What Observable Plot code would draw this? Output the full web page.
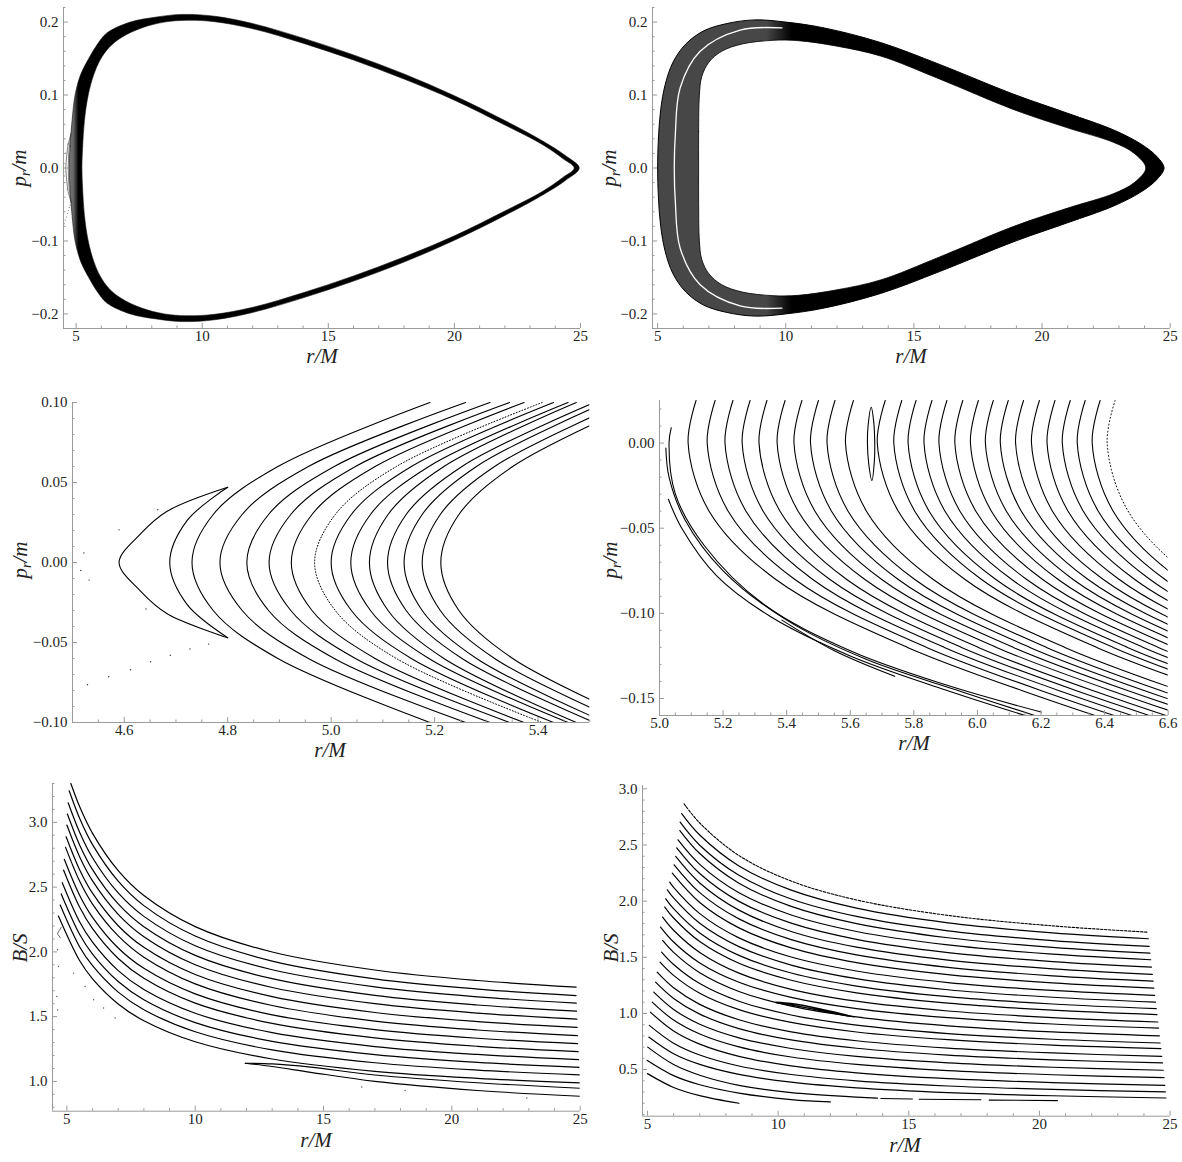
<!DOCTYPE html>
<html><head><meta charset="utf-8">
<script src="https://cdn.jsdelivr.net/npm/d3@7"></script>
<script src="https://cdn.jsdelivr.net/npm/@observablehq/plot@0.6"></script>
<style>
body{margin:0;background:#fff;}
#root{position:relative;width:1182px;height:1162px;overflow:hidden;background:#fff;font-family:"Liberation Serif","Times New Roman",serif;}
#root svg text{font-family:"Liberation Serif","Times New Roman",serif !important;font-size:15px !important;}
.lab{position:absolute;font-style:italic;font-size:21px;white-space:nowrap;color:#222;line-height:1;}
.lab sub{font-size:14px;vertical-align:-4px;}
</style></head><body><div id="root"></div>
<script>
// ---------------- DATA ----------------
// Panel 1 (top-left): outer / inner boundary of the invariant band (r/M, p_r/m)
const p1Outer = [[4.73,0],[4.76,0.03],[4.84,0.065],[4.96,0.1],[5.18,0.128],[5.5,0.15],[5.85,0.17],[6.22,0.185],[7.15,0.2],[8.2,0.207],[9.2,0.2105],[10.5,0.208],[12,0.198],[14,0.178],[16,0.155],[18,0.129],[20,0.099],[22,0.065],[23.5,0.037],[24.4,0.017],[24.95,0],
  [24.4,-0.017],[23.5,-0.037],[22,-0.065],[20,-0.099],[18,-0.129],[16,-0.155],[14,-0.178],[12,-0.198],[10.5,-0.208],[9.2,-0.2105],[8.2,-0.207],[7.15,-0.2],[6.22,-0.185],[5.85,-0.17],[5.5,-0.15],[5.18,-0.128],[4.96,-0.1],[4.84,-0.065],[4.76,-0.03]];
const p1Inner = [[5.23,0],[5.26,0.03],[5.33,0.065],[5.48,0.1],[5.7,0.128],[5.95,0.148],[6.3,0.165],[6.8,0.179],[7.6,0.192],[8.5,0.2],[9.4,0.2025],[10.5,0.2005],[12,0.191],[14,0.171],[16,0.148],[18,0.122],[20,0.093],[22,0.059],[23.5,0.032],[24.3,0.013],[24.75,0],
  [24.3,-0.013],[23.5,-0.032],[22,-0.059],[20,-0.093],[18,-0.122],[16,-0.148],[14,-0.171],[12,-0.191],[10.5,-0.2005],[9.4,-0.2025],[8.5,-0.2],[7.6,-0.192],[6.8,-0.179],[6.3,-0.165],[5.95,-0.148],[5.7,-0.128],[5.48,-0.1],[5.33,-0.065],[5.26,-0.03]];

// Panel 2 (top-right)
const p2Outer = [[5.0,0],[5.03,0.04],[5.12,0.08],[5.3,0.115],[5.6,0.145],[6.1,0.17],[6.8,0.188],[7.7,0.198],[8.8,0.203],[10,0.2],[11.5,0.192],[13.7,0.172],[16,0.142],[18.9,0.101],[21,0.075],[22.8,0.052],[23.9,0.032],[24.5,0.015],[24.76,0],
  [24.5,-0.015],[23.9,-0.032],[22.8,-0.052],[21,-0.075],[18.9,-0.101],[16,-0.142],[13.7,-0.172],[11.5,-0.192],[10,-0.2],[8.8,-0.203],[7.7,-0.198],[6.8,-0.188],[6.1,-0.17],[5.6,-0.145],[5.3,-0.115],[5.12,-0.08],[5.03,-0.04]];
const p2Inner = [[6.6,0],[6.6,0.05],[6.63,0.1],[6.72,0.125],[7.0,0.145],[7.5,0.16],[8.3,0.17],[9.5,0.175],[10.5,0.1745],[12,0.167],[13.7,0.1535],[16,0.122],[18.9,0.08],[21,0.055],[22.8,0.035],[23.6,0.02],[24.05,0],
  [23.6,-0.02],[22.8,-0.035],[21,-0.055],[18.9,-0.08],[16,-0.122],[13.7,-0.1535],[12,-0.167],[10.5,-0.1745],[9.5,-0.175],[8.3,-0.17],[7.5,-0.16],[7.0,-0.145],[6.72,-0.125],[6.63,-0.1],[6.6,-0.05]];
const p2WhiteLine = [[9.85,0.192],[8.22,0.189],[6.66,0.16],[5.88,0.11],[5.69,0.046],[5.65,0],[5.69,-0.046],[5.88,-0.11],[6.66,-0.16],[8.22,-0.189],[9.85,-0.192]];

// Panel 3 (middle-left): r/M of each curve at the p_r/m levels of p3Grid
const p3Grid = [0.1, 0.06, 0.03, 0, -0.03, -0.06, -0.1];
const p3Curves = [
  [5.191,4.897,4.772,4.731,4.772,4.897,5.191],
  [5.26,4.956,4.828,4.785,4.828,4.956,5.26],
  [5.307,5.006,4.879,4.837,4.879,5.006,5.307],
  [5.345,5.047,4.922,4.880,4.922,5.047,5.345],
  [5.373,5.085,4.963,4.923,4.963,5.085,5.373],
  [5.408,5.126,5.008,4.968,5.008,5.126,5.408],
  [5.43,5.155,5.039,5.0,5.039,5.155,5.43],
  [5.458,5.189,5.076,5.038,5.076,5.189,5.458],
  [5.474,5.218,5.110,5.074,5.110,5.218,5.474],
  [5.509,5.253,5.145,5.109,5.145,5.253,5.509],
  [5.531,5.281,5.176,5.141,5.176,5.281,5.531],
  [5.566,5.316,5.211,5.176,5.211,5.316,5.566],
  [5.597,5.351,5.247,5.212,5.247,5.351,5.597]
];
const p3DottedIndex = 5;
const p3CrescentOuter = [[4.8,0.047],[4.683,0.032],[4.631,0.0177],[4.59,0],[4.631,-0.0177],[4.683,-0.032],[4.8,-0.047]];
const p3CrescentInner = [[4.8,0.047],[4.721,0.026],[4.688,0],[4.721,-0.026],[4.8,-0.047]];
const p3Dots = [[4.59,0.0204],[4.665,0.033],[4.522,0.006],[4.516,-0.005],[4.532,-0.011],[4.642,-0.029],[4.763,-0.051],[4.727,-0.054],[4.689,-0.058],[4.651,-0.062],[4.612,-0.067],[4.57,-0.0714],[4.529,-0.0764]];

// Panel 4 (middle-right): r/M of each curve at the p_r/m levels of p4Grid
const p4Grid = [0.025, 0, -0.04, -0.08, -0.12, -0.16];
const p4Curves = [
  [5.115,5.09,5.156,5.365,5.78,6.37],
  [5.175,5.15,5.216,5.425,5.84,6.43],
  [5.231,5.206,5.272,5.481,5.896,6.486],
  [5.285,5.26,5.326,5.535,5.95,6.54],
  [5.338,5.313,5.379,5.588,6.003,6.593],
  [5.395,5.37,5.436,5.645,6.06,6.65],
  [5.448,5.423,5.489,5.698,6.113,6.703],
  [5.5,5.475,5.541,5.75,6.165,6.755],
  [5.552,5.527,5.593,5.802,6.217,6.807],
  [5.61,5.585,5.651,5.86,6.275,6.865],
  [5.71,5.685,5.751,5.96,6.375,6.965],
  [5.762,5.737,5.803,6.012,6.427,7.017],
  [5.807,5.782,5.848,6.057,6.472,7.062],
  [5.857,5.832,5.898,6.107,6.522,7.112],
  [5.904,5.879,5.945,6.154,6.569,7.159],
  [5.954,5.929,5.995,6.204,6.619,7.209],
  [6.003,5.978,6.044,6.253,6.668,7.258],
  [6.05,6.025,6.091,6.3,6.715,7.305],
  [6.097,6.072,6.138,6.347,6.762,7.352],
  [6.145,6.12,6.186,6.395,6.81,7.4],
  [6.195,6.17,6.236,6.445,6.86,7.45],
  [6.244,6.219,6.285,6.494,6.909,7.499],
  [6.292,6.267,6.333,6.542,6.957,7.547],
  [6.339,6.314,6.38,6.589,7.004,7.594],
  [6.386,6.361,6.427,6.636,7.051,7.641],
  [6.433,6.408,6.474,6.683,7.098,7.688]
];
const p4DottedIndex = 25;
const p4Extra = [
  [[5.037,0.009],[5.03,0],[5.05,-0.03],[5.14,-0.06],[5.33,-0.095],[5.6,-0.122],[5.9,-0.142],[6.2,-0.158]],
  [[5.02,-0.003],[5.03,-0.02],[5.08,-0.045],[5.2,-0.075],[5.4,-0.104],[5.65,-0.127],[5.95,-0.146],[6.18,-0.16]],
  [[5.028,-0.033],[5.07,-0.05],[5.18,-0.078],[5.35,-0.102],[5.6,-0.125],[5.9,-0.145],[6.15,-0.16]],
  [[5.385,-0.104],[5.55,-0.122],[5.74,-0.137]]
];
const p4Loop = [[5.666,0.021],[5.656,0.01],[5.654,0],[5.658,-0.012],[5.668,-0.022],[5.676,-0.01],[5.677,0],[5.674,0.012]];

// Panel 5 (bottom-left): B/S of each curve at start, at r/M = p5Grid, and at end
const p5Grid = [5.5, 6, 7, 8, 10, 13, 17, 21];
const p5Starts = [[5.155,3.300],[5.09,3.244],[5.05,3.151],[5.02,3.064],[5.00,2.979],[4.97,2.889],[4.95,2.807],[4.90,2.715],[4.87,2.632],[4.82,2.534],[4.78,2.447],[4.74,2.362],[4.67,2.277]];
const p5Vals = [
  [3.120,2.915,2.627,2.435,2.195,1.999,1.860,1.779],
  [3.030,2.828,2.546,2.357,2.122,1.929,1.792,1.713],
  [2.922,2.727,2.455,2.274,2.047,1.862,1.730,1.653],
  [2.824,2.635,2.370,2.194,1.973,1.793,1.664,1.590],
  [2.733,2.548,2.290,2.117,1.901,1.725,1.600,1.527],
  [2.633,2.453,2.202,2.035,1.825,1.654,1.532,1.462],
  [2.545,2.369,2.123,1.959,1.753,1.586,1.466,1.397],
  [2.436,2.267,2.030,1.873,1.676,1.514,1.400,1.333],
  [2.344,2.179,1.949,1.796,1.604,1.448,1.336,1.271],
  [2.231,2.075,1.855,1.709,1.526,1.376,1.269,1.208],
  [2.134,1.983,1.771,1.630,1.454,1.309,1.207,1.147],
  [2.038,1.893,1.689,1.553,1.383,1.243,1.144,1.087],
  [1.931,1.792,1.598,1.468,1.306,1.173,1.078,1.024]
];
const p5Ends = [[24.84,1.728],[24.84,1.663],[24.85,1.605],[24.86,1.543],[24.87,1.481],[24.88,1.417],[24.89,1.353],[24.90,1.291],[24.92,1.230],[24.94,1.168],[24.96,1.109],[24.98,1.050],[25.0,0.988]];
const p5IslandTop = [[11.95,1.14],[13,1.135],[14.5,1.11],[17,1.05],[21,0.99],[25,0.947]];
const p5IslandBottom = [[11.95,1.14],[13,1.115],[14.5,1.07],[17,1.0],[21,0.93],[25,0.885]];
const p5Zig = [[4.78,2.19],[4.63,2.14],[4.74,2.11]];
const p5Dots = [[4.635,2.016],[4.674,1.887],[5.26,1.836],[5.71,1.733],[6.04,1.63],[6.43,1.567],[6.88,1.49],[4.61,1.655],[4.64,1.552],[16.49,0.957],[18.18,0.93],[22.92,0.872]];

// Panel 6 (bottom-right)
const p6Grid = [6, 7, 8.5, 10.5, 13, 16.5, 20.5];
const p6Starts = [[6.40,2.867],[6.31,2.780],[6.25,2.703],[6.24,2.629],[6.17,2.546],[6.12,2.475],[6.08,2.398],[6.02,2.324],[5.95,2.249],[5.85,2.169],[5.76,2.101],[5.70,2.021],[5.66,1.947],[5.58,1.858],[5.50,1.769],[5.58,1.650],[5.54,1.546],[5.48,1.457],[5.37,1.368],[5.31,1.279],[5.24,1.190],[5.18,1.101],[5.11,1.012],[5.07,0.894],[5.05,0.790],[5.01,0.700],[4.98,0.583],[5.00,0.464]];
const p6Vals = [
  [null,2.696,2.406,2.179,2.011,1.873,1.780],
  [null,2.589,2.314,2.098,1.938,1.807,1.718],
  [null,2.498,2.230,2.019,1.864,1.736,1.649],
  [null,2.424,2.160,1.953,1.800,1.674,1.589],
  [null,2.328,2.075,1.877,1.730,1.610,1.528],
  [null,2.246,1.998,1.804,1.660,1.542,1.462],
  [null,2.162,1.920,1.730,1.590,1.475,1.397],
  [null,2.076,1.842,1.658,1.522,1.411,1.335],
  [null,1.988,1.762,1.584,1.453,1.345,1.272],
  [2.123,1.889,1.673,1.503,1.378,1.275,1.205],
  [2.029,1.803,1.595,1.431,1.310,1.211,1.144],
  [1.933,1.717,1.517,1.360,1.244,1.149,1.084],
  [1.850,1.640,1.447,1.296,1.184,1.092,1.029],
  [1.741,1.543,1.359,1.215,1.109,1.022,0.963],
  [1.636,1.450,1.278,1.143,1.043,0.962,0.906],
  [1.544,1.363,1.196,1.065,0.969,0.889,0.835],
  [1.436,1.266,1.109,0.986,0.896,0.821,0.770],
  [1.339,1.180,1.034,0.920,0.835,0.766,0.718],
  [1.229,1.081,0.944,0.836,0.757,0.692,0.648],
  [1.134,0.994,0.865,0.764,0.690,0.629,0.587],
  [1.036,0.904,0.783,0.688,0.617,0.560,0.521],
  [0.941,0.817,0.702,0.612,0.546,0.491,0.454],
  [0.844,0.727,0.618,0.533,0.471,0.419,0.384],
  [0.735,0.630,0.532,0.456,0.400,0.354,0.323],
  [0.641,0.546,0.457,0.388,0.337,0.295,0.267],
  [0.545,0.450,0.360,0.295,0.255,null,null],
  [0.446,0.365,0.291,0.233,null,null,null],
  [0.341,0.268,null,null,null,null,null]
];
const p6Ends = [[24.14,1.724],[24.17,1.665],[24.20,1.597],[24.23,1.537],[24.26,1.478],[24.29,1.413],[24.32,1.348],[24.35,1.288],[24.38,1.226],[24.41,1.161],[24.44,1.101],[24.47,1.043],[24.50,0.989],[24.53,0.924],[24.56,0.870],[24.59,0.800],[24.62,0.737],[24.65,0.687],[24.68,0.618],[24.71,0.559],[24.74,0.494],[24.77,0.429],[24.80,0.360],[24.82,0.301],[24.84,0.247],[13.8,0.245],[12.0,0.212],[8.5,0.200]];
const p6DottedIndex = 0;
const p6Dashes = [[[13.93,0.242],[15.14,0.238]],[[15.4,0.236],[17.76,0.232]],[[18.08,0.228],[20.69,0.224]]];
const p6Island = [[9.91,1.101],[10.5,1.088],[11.2,1.06],[12,1.02],[12.91,0.968],[12,1.008],[11.2,1.045],[10.5,1.075],[9.91,1.098]];

// Tick values
const ticksR25 = [5, 10, 15, 20, 25];
const ticksP1 = [-0.2, -0.1, 0, 0.1, 0.2];
const ticksR3 = [4.6, 4.8, 5.0, 5.2, 5.4];
const ticksP3 = [-0.10, -0.05, 0, 0.05, 0.10];
const ticksR4 = [5.0, 5.2, 5.4, 5.6, 5.8, 6.0, 6.2, 6.4, 6.6];
const ticksP4 = [-0.15, -0.10, -0.05, 0];
const ticksB5 = [1.0, 1.5, 2.0, 2.5, 3.0];
const ticksB6 = [0.5, 1.0, 1.5, 2.0, 2.5, 3.0];

// ---------------- DRAWING ----------------
const NS = "http://www.w3.org/2000/svg";
const root = document.getElementById("root");
const SERIF = '"Liberation Serif","Times New Roman",serif';
const AX = "#9a9a9a";
const TXT = {fontFamily: SERIF, fontSize: 15, fill: "#222"};
const fx = d => (d < 0 ? "\u2212" : "") + Math.abs(d);
const fd = n => d => (d < -1e-9 ? "\u2212" : "") + Math.abs(d).toFixed(n);
const minor = (lo, hi, step, majors) => d3.range(Math.ceil(lo / step - 1e-6), Math.floor(hi / step + 1e-6) + 1)
  .map(k => +(k * step).toFixed(6)).filter(v => !majors.some(m => Math.abs(m - v) < step / 10));
const pts = a => a.map(([x, y]) => ({x, y}));
function gradMark(id, stops) {
  return () => {
    const defs = document.createElementNS(NS, "defs");
    const lg = document.createElementNS(NS, "linearGradient");
    lg.setAttribute("id", id);
    lg.setAttribute("x1", "0"); lg.setAttribute("y1", "0"); lg.setAttribute("x2", "1"); lg.setAttribute("y2", "0");
    for (const [o, c] of stops) { const s = document.createElementNS(NS, "stop"); s.setAttribute("offset", o); s.setAttribute("stop-color", c); lg.appendChild(s); }
    defs.appendChild(lg);
    return defs;
  };
}
function gridRowsP(grid, curves) {
  const rows = [];
  curves.forEach((c, i) => c.forEach((r, j) => rows.push({x: r, y: grid[j], id: i})));
  return rows;
}
function gridRowsR(starts, grid, vals, ends) {
  const rows = [];
  starts.forEach((s, i) => {
    rows.push({x: s[0], y: s[1], id: i});
    vals[i].forEach((v, j) => { if (v != null && grid[j] > s[0] + 0.05 && grid[j] < ends[i][0] - 0.05) rows.push({x: grid[j], y: v, id: i}); });
    rows.push({x: ends[i][0], y: ends[i][1], id: i});
  });
  return rows;
}
function panel(c) {
  const ml = 70, mr = 16, mt = 12, mb = 30;
  const svg = Plot.plot({
    width: c.R - c.L + ml + mr, height: c.B - c.T + mt + mb,
    marginLeft: ml, marginRight: mr, marginTop: mt, marginBottom: mb,
    x: {domain: c.xd, label: null}, y: {domain: c.yd, label: null},
    style: {background: "transparent", maxWidth: "none", overflow: "visible"},
    marks: [
      ...c.marks,
      Plot.ruleX([c.xd[0]], {stroke: AX}),
      Plot.ruleY([c.yd[0]], {stroke: AX}),
      Plot.axisX({ticks: minor(c.xd[0], c.xd[1], c.xs, c.xt), tickSize: -2.5, tickFormat: () => "", stroke: AX, label: null}),
      Plot.axisX({ticks: c.xt, tickSize: -5, tickPadding: 7, tickFormat: c.xf, stroke: AX, label: null, ...TXT}),
      Plot.axisY({ticks: minor(c.yd[0], c.yd[1], c.ys, c.yt), tickSize: -2.5, tickFormat: () => "", stroke: AX, label: null}),
      Plot.axisY({ticks: c.yt, tickSize: -5, tickPadding: 10, tickFormat: c.yf, stroke: AX, label: null, ...TXT})
    ]
  });
  svg.setAttribute("font-family", SERIF);
  svg.setAttribute("font-size", "15");
  svg.querySelectorAll("text").forEach(t => { t.setAttribute("font-family", SERIF); t.style.fontFamily = SERIF; t.style.fontSize = "15px"; });
  svg.style.position = "absolute";
  svg.style.left = (c.L - ml) + "px";
  svg.style.top = (c.T - mt) + "px";
  root.appendChild(svg);
}
function label(html, cx, cy, rot) {
  const d = document.createElement("div");
  d.className = "lab";
  d.innerHTML = html;
  d.style.left = cx + "px"; d.style.top = cy + "px";
  d.style.transform = "translate(-50%,-50%)" + (rot ? " rotate(-90deg)" : "");
  root.appendChild(d);
}
const line = (data, o = {}) => Plot.line(pts(data), {x: "x", y: "y", curve: "catmull-rom", stroke: "black", strokeWidth: 1.1, clip: true, ...o});

// Panel 1
panel({L: 63.3, R: 580.3, T: 7, B: 328, xd: [4.5, 25], yd: [-0.22, 0.22], xt: ticksR25, yt: ticksP1, xf: fx, yf: fd(1), xs: 1, ys: 0.02,
  marks: [
    gradMark("g1", [["0", "#777"], ["0.008", "#666"], ["0.018", "#000"], ["1", "#000"]]),
    line(p1Outer, {curve: "catmull-rom-closed", fill: "url(#g1)", stroke: "#111", strokeWidth: 0.6}),
    line(p1Inner, {curve: "catmull-rom-closed", fill: "white", stroke: "#111", strokeWidth: 0.6}),
    line(p3CrescentOuter, {strokeWidth: 0.7, stroke: "#444"}),
    line(p3CrescentInner, {strokeWidth: 0.7, stroke: "#444"}),
    Plot.dot(pts(p3Dots), {x: "x", y: "y", r: 0.5, fill: "#555", stroke: null})
  ]});
// Panel 2
panel({L: 652.3, R: 1170, T: 7, B: 328, xd: [4.8, 25], yd: [-0.22, 0.22], xt: ticksR25, yt: ticksP1, xf: fx, yf: fd(1), xs: 1, ys: 0.02,
  marks: [
    gradMark("g2", [["0", "#474747"], ["0.215", "#474747"], ["0.265", "#000"], ["1", "#000"]]),
    line(p2Outer, {curve: "catmull-rom-closed", fill: "url(#g2)", stroke: "black", strokeWidth: 1}),
    line(p2Inner, {curve: "catmull-rom-closed", fill: "white", stroke: "black", strokeWidth: 0.8}),
    line(p2WhiteLine, {stroke: "white", strokeWidth: 1.3})
  ]});
// Panel 3
const p3Rows = gridRowsP(p3Grid, p3Curves);
panel({L: 71.7, R: 589, T: 401.7, B: 721.7, xd: [4.5, 5.5], yd: [-0.1, 0.1], xt: ticksR3, yt: ticksP3, xf: fd(1), yf: fd(2), xs: 0.05, ys: 0.01,
  marks: [
    Plot.line(p3Rows.filter(d => d.id !== p3DottedIndex), {x: "x", y: "y", z: "id", curve: "catmull-rom", stroke: "black", strokeWidth: 1.1, clip: true}),
    Plot.line(p3Rows.filter(d => d.id === p3DottedIndex), {x: "x", y: "y", z: "id", curve: "catmull-rom", stroke: "black", strokeWidth: 1, strokeDasharray: "1,2", clip: true}),
    line(p3CrescentOuter), line(p3CrescentInner),
    Plot.dot(pts(p3Dots), {x: "x", y: "y", r: 0.7, fill: "#333", stroke: null})
  ]});
// Panel 4
const p4Rows = gridRowsP(p4Grid, p4Curves);
panel({L: 659.3, R: 1168, T: 400, B: 715, xd: [5.0, 6.6], yd: [-0.16, 0.025], xt: ticksR4, yt: ticksP4, xf: fd(1), yf: fd(2), xs: 0.05, ys: 0.01,
  marks: [
    Plot.line(p4Rows.filter(d => d.id !== p4DottedIndex), {x: "x", y: "y", z: "id", curve: "catmull-rom", stroke: "black", strokeWidth: 1.1, clip: true}),
    Plot.line(p4Rows.filter(d => d.id === p4DottedIndex), {x: "x", y: "y", z: "id", curve: "catmull-rom", stroke: "black", strokeWidth: 1, strokeDasharray: "1,2.5", clip: true}),
    ...p4Extra.map(e => line(e)),
    line(p4Loop, {curve: "catmull-rom-closed"})
  ]});
// Panel 5
const p5Rows = gridRowsR(p5Starts, p5Grid, p5Vals, p5Ends);
panel({L: 52.3, R: 580, T: 783.3, B: 1111, xd: [4.44, 25], yd: [0.77, 3.3], xt: ticksR25, yt: ticksB5, xf: fx, yf: fd(1), xs: 1, ys: 0.1,
  marks: [
    Plot.line(p5Rows, {x: "x", y: "y", z: "id", curve: "catmull-rom", stroke: "black", strokeWidth: 1.2, clip: true}),
    line(p5IslandTop), line(p5IslandBottom),
    line(p5Zig, {curve: "linear", strokeWidth: 0.8, stroke: "#444"}),
    Plot.dot(pts(p5Dots), {x: "x", y: "y", r: 0.7, fill: "#555", stroke: null})
  ]});
// Panel 6
const p6Rows = gridRowsR(p6Starts, p6Grid, p6Vals, p6Ends);
panel({L: 641.7, R: 1169.3, T: 785, B: 1115.7, xd: [4.81, 25], yd: [0.085, 3.03], xt: ticksR25, yt: ticksB6, xf: fx, yf: fd(1), xs: 1, ys: 0.1,
  marks: [
    Plot.line(p6Rows.filter(d => d.id !== p6DottedIndex), {x: "x", y: "y", z: "id", curve: "catmull-rom", stroke: "black", strokeWidth: 1.2, clip: true}),
    Plot.line(p6Rows.filter(d => d.id === p6DottedIndex), {x: "x", y: "y", z: "id", curve: "catmull-rom", stroke: "black", strokeWidth: 1.1, strokeDasharray: "2.5,1.5", clip: true}),
    ...p6Dashes.map(e => line(e, {curve: "linear"})),
    line(p6Island, {strokeWidth: 1.4})
  ]});

// Axis labels
const pr = '<i>p</i><sub><i>r</i></sub>/<i>m</i>';
const rM = '<i>r</i>/<i>M</i>';
const BS = '<i>B</i>/<i>S</i>';
label(rM, 322, 356); label(rM, 911, 356);
label(pr, 21, 168, true); label(pr, 611, 168, true);
label(rM, 330, 750); label(rM, 914, 743);
label(pr, 22, 560, true); label(pr, 612, 560, true);
label(rM, 316, 1140); label(rM, 905, 1145);
label(BS, 20, 948, true); label(BS, 611, 948, true);
</script></body></html>
